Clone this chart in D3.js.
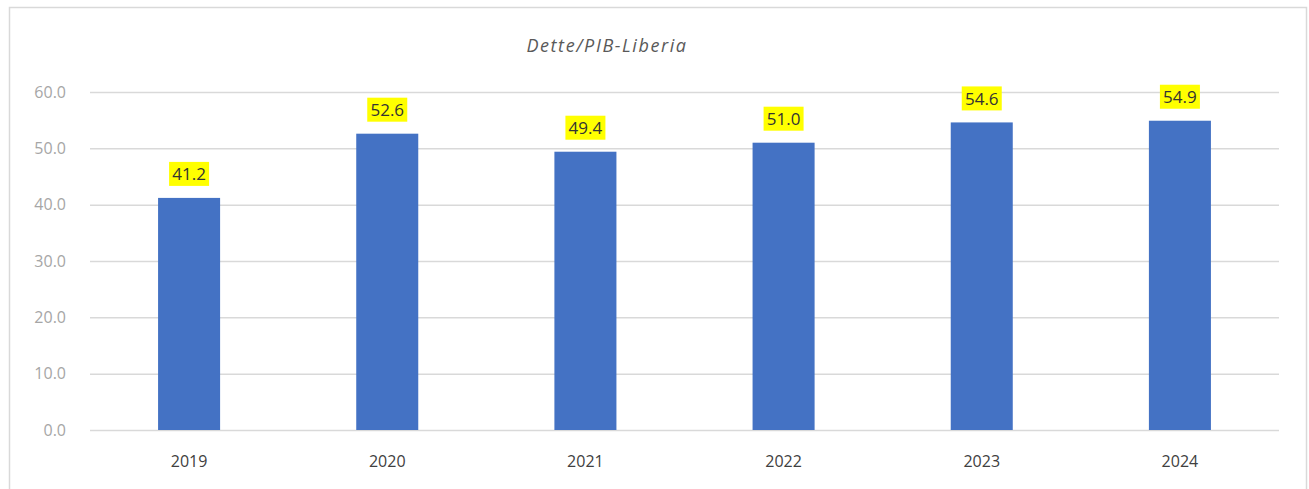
<!DOCTYPE html>
<html>
<meta charset="utf-8">
<script src="https://cdn.jsdelivr.net/npm/d3@7"></script>
<style>
  body { margin: 0; background: #fff; }
</style>
<body>
<div id="plot_area"></div>
</body>
<script>

var years = ["2019", "2020", "2021", "2022", "2023", "2024"];
var debtRatio = [41.2, 52.6, 49.4, 51.0, 54.6, 54.9];
var yTicks = [0, 10, 20, 30, 40, 50, 60];
var title = "Dette/PIB-Liberia";

var W = 1309, H = 489;
var margin = {top: 92, right: 30, bottom: 59, left: 90},
    width = 1279 - margin.left,
    height = 430 - margin.top;

var svg = d3.select("#plot_area")
  .append("svg")
    .attr("width", W)
    .attr("height", H)
    .style("font-family", "'Open Sans', 'Noto Sans', sans-serif");

// chart frame
svg.append("rect")
  .attr("x", 9.5).attr("y", 7.5)
  .attr("width", 1297).attr("height", 500)
  .attr("fill", "#fff")
  .attr("stroke", "#d9d9d9")
  .attr("stroke-width", 1.5);

svg.append("text")
  .attr("x", 607).attr("y", 52)
  .attr("text-anchor", "middle")
  .style("font-style", "italic")
  .style("font-size", "18px")
  .style("letter-spacing", "1.6px")
  .attr("fill", "#595959")
  .text(title);

var g = svg.append("g")
  .attr("transform", "translate(" + margin.left + "," + margin.top + ")");

var x = d3.scaleBand()
  .domain(years)
  .range([0, width])
  .paddingInner(0.687)
  .paddingOuter(0.3435);

var y = d3.scaleLinear()
  .domain([0, 60])
  .range([height, 0]);

// gridlines
g.append("g")
  .call(d3.axisLeft(y).tickValues(yTicks).tickSize(-width).tickFormat(function(d) { return d.toFixed(1); }))
  .call(function(a) {
    a.select(".domain").remove();
    a.selectAll(".tick line").attr("stroke", "#d9d9d9").attr("stroke-width", 1.5);
    a.selectAll(".tick text")
      .attr("x", -24)
      .attr("fill", "#a6a6a6")
      .style("font-size", "16px")
      .style("font-family", "'Open Sans', 'Noto Sans', sans-serif");
  });

// x axis labels
g.append("g")
  .attr("transform", "translate(0," + height + ")")
  .call(d3.axisBottom(x).tickSize(0).tickPadding(26))
  .call(function(a) {
    a.select(".domain").remove();
    a.selectAll(".tick text")
      .attr("fill", "#404040")
      .style("font-size", "16px")
      .style("font-family", "'Open Sans', 'Noto Sans', sans-serif");
  });

var data = years.map(function(d, i) { return {year: d, value: debtRatio[i]}; });

// bars
g.selectAll("rect.bar")
  .data(data)
  .enter()
  .append("rect")
    .attr("class", "bar")
    .attr("x", function(d) { return x(d.year); })
    .attr("y", function(d) { return y(d.value); })
    .attr("width", x.bandwidth())
    .attr("height", function(d) { return height - y(d.value); })
    .attr("fill", "#4472c4");

// value labels with yellow highlight
var lab = g.selectAll("g.lab")
  .data(data)
  .enter()
  .append("g")
    .attr("class", "lab")
    .attr("transform", function(d) {
      return "translate(" + (x(d.year) + x.bandwidth() / 2) + "," + (y(d.value) - 24) + ")";
    });

lab.append("rect")
  .attr("x", -20).attr("y", -12)
  .attr("width", 40).attr("height", 24)
  .attr("fill", "#ffff00");

lab.append("text")
  .attr("text-anchor", "middle")
  .attr("dy", "0.36em")
  .attr("fill", "#333")
  .style("font-size", "17px")
  .text(function(d) { return d.value.toFixed(1); });

</script>
</html>
